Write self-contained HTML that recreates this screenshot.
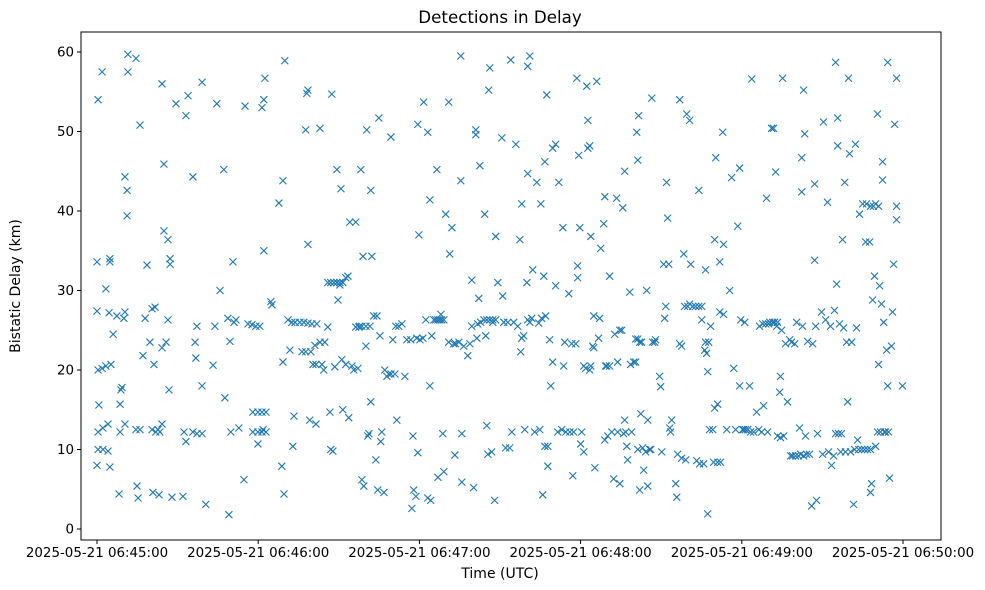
<!DOCTYPE html>
<html><head><meta charset="utf-8"><style>
html,body{margin:0;padding:0;background:#fff;}
svg{display:block;font-family:"DejaVu Sans","Liberation Sans",sans-serif;}
</style></head><body>
<svg id="chart" width="985" height="590" viewBox="0 0 985 590">
<rect x="0" y="0" width="985" height="590" fill="#fff"/>
<text x="500" y="23" text-anchor="middle" font-size="16.7">Detections in Delay</text>
<g id="points"></g>
<rect x="81" y="32" width="860" height="508" fill="none" stroke="#000" stroke-width="1"/>
<g id="xticks"></g>
<g id="yticks"></g>
<text x="500" y="578" text-anchor="middle" font-size="14">Time (UTC)</text>
<text transform="translate(20,286) rotate(-90)" text-anchor="middle" font-size="14">Bistatic Delay (km)</text>
</svg>
<script>
const xTickSeconds=[0,60,120,180,240,300];
const xTickLabels=["2025-05-21 06:45:00","2025-05-21 06:46:00","2025-05-21 06:47:00","2025-05-21 06:48:00","2025-05-21 06:49:00","2025-05-21 06:50:00"];
const yTickValues=[0,10,20,30,40,50,60];
// [seconds after 06:45:00, bistatic delay km]
const detections=[
[0.4,54],[1.9,57.5],[0,33.6],[0,27.4],[0.4,20],[1.9,20.2],[3.3,20.5],[5.2,20.7],[0.7,15.6],[0.4,12.2],[2.2,12.7],[4.1,13.2],[0.4,10],[2.2,10],[4.1,9.8],[0,8],[3.3,30.2],[4.8,34],[4.8,33.6],[4.5,27.2],[7.4,26.8],[6,24.5],[4.8,7.8],[8.6,12.2],[9.3,17.8],[8.9,17.5],[8.6,15.7],[8.2,4.4],[10.4,44.3],[11.2,42.6],[11.2,39.4],[10,26.5],[10.4,27.3],[11.5,59.7],[11.5,57.5],[10.4,13.2],[14.5,59.2],[16,50.8],
[15.3,3.9],[14.9,5.4],[14.5,12.5],[16,12.5],[17.9,26.5],[18.6,33.2],[17.1,21.8],[19.7,23.5],[20.5,27.7],[21.6,27.9],[21.2,20.7],[20.5,12.5],[21.9,12.2],[22.7,12.5],[20.8,4.6],[23.1,4.3],[24.2,56],[24.9,45.9],[24.9,37.5],[26.4,36.4],[27.2,34],[27.2,33.3],[26.4,26.3],[25.7,23.5],[24.2,22.8],[26.8,17.5],[23.4,12.2],[24.2,13.2],[27.9,4],[29.4,53.5],[32,4.1],[33.1,52],[33.9,54.5],[32.4,12.2],[33.1,11],[35.7,44.3],[36.8,21.5],[36.5,23.5],[37.2,25.5],[35.7,12.2],[37.2,12],[39.1,12],[39.1,56.2],[39.1,18],[40.5,3.1],
[43.2,20.6],[43.9,25.5],[44.6,53.5],[45.8,30],[47.2,45.2],[47.6,16.5],[49.1,1.8],[48.7,26.5],[50.6,33.6],[49.5,23.6],[49.8,12.2],[51,26],[52.8,12.7],[51.7,26.3],[54.7,6.2],[55.1,53.2],[56.2,25.8],[57.7,25.7],[59.1,25.5],[60.6,25.5],[58,14.7],[59.9,14.7],[61.4,14.7],[62.9,14.7],[58,12.2],[59.9,12.2],[61.4,12.2],[62.9,12.2],[59.9,10.7],[61.8,12.5],[61.4,53],[62.1,54],[62.5,56.7],[62.1,35],[64.7,28.6],[65.1,28.2],[67.7,41],[69.2,43.8],[69.2,21],[68.8,7.9],[69.6,4.4],[69.9,58.9],[71.1,26.3],[71.8,22.5],[72.5,26],[73.7,26],[73.3,14.2],[72.9,10.4],
[75.5,26],[77,26],[78.5,25.9],[76.3,22.3],[77.7,22.3],[79.6,22.3],[77.7,50.2],[78.1,54.8],[78.5,55.2],[78.5,35.8],[79.2,13.7],[80.4,20.7],[80,25.8],[81.1,23.1],[81.5,20.7],[81.8,25.8],[81.5,13.2],[83,50.4],[83,23.5],[83.7,20.7],[84.8,23.5],[84.4,20],[85.9,25.4],[85.9,31],[87,31],[88.2,31],[89.3,31],[90.4,31],[91.5,31],[87,10],[87.8,9.8],[86.7,14.7],[87.4,54.7],[88.5,20.4],[89.3,45.2],[89.7,28.8],[90.4,30.7],[91.1,21.3],[90.8,42.8],[91.5,15],[92.6,31.6],[93.4,31.8],[92.6,20.7],[94.1,38.6],[93.7,14],[94.9,20.5],[95.6,20],[96.3,38.6],[96.3,25.4],[97.5,25.4],[97.8,25.5],[98.6,25.5],[100.1,25.5],[101.6,25.5],[97.1,20.2],[98.2,45.2],[99,34.3],[98.6,6.2],[99.3,5.4],[100.1,23],[100.4,50.2],[100.8,11.7],[101.2,12],[101.9,42.6],[102.3,34.3],[101.9,16],[103,26.8],[103.8,8.7],[104.2,26.8],[104.5,4.9],[104.9,51.7],[105.3,24.3],[105.6,11],[106,12.2],[106.8,4.6],
[107.1,20],[107.9,19.2],[108.6,19.5],[109.4,19.5],[110.9,19.5],[109.4,49.3],[110.1,23.8],[111.2,25.5],[112.3,25.5],[113.5,25.8],[111.6,13.7],[114.6,19.2],[115.3,23.8],[116.8,23.8],[117.6,11.7],[117.9,4.9],[117.2,2.6],[118.7,4.1],[119.4,9.6],[119.4,50.9],[119.8,37],[119,24],[120.2,23.8],[121.3,24],[121.6,53.7],[122.4,26.3],[123.1,3.9],[124.2,3.6],[123.1,49.9],[123.9,41.4],[123.9,18],[124.6,24.3],[125.4,26.3],[126.5,45.2],[126.1,26.3],[126.9,26.3],[127.6,26.3],[128.3,26.3],[129.1,26.3],[128,27],[126.9,6.5],[128.7,12],[129.1,7.2],[129.8,39.6],[130.9,53.7],[131.3,34.6],[130.9,23.5],[132.1,37.9],[132.8,23.3],[133.2,9.3],[133.5,23.3],[134.7,23.5],[135.4,59.5],[135.4,43.8],[135.8,12],[135.8,5.9],
[136.5,23],[138,21.8],[138.8,23.3],[139.5,31.3],[139.5,25.5],[140.2,5.2],[141,50.2],[141,49.6],[141.4,24],[141.7,25.8],[142.1,29],[142.5,45.7],[142.8,26],[144,26.3],[145.1,26.3],[146.2,26.3],[147.3,26.3],[148.4,26.3],[144.7,24.3],[145.1,13],[145.5,9.4],[144.3,39.6],[145.8,55.2],[146.2,58],[146.9,9.7],[147.3,26],[148,3.6],[148.4,36.8],[149.2,31],[150.7,49.2],[151,29.3],[151.4,26],[152.1,10.2],[152.9,26],[153.6,10.2],[154,59],[154.4,12.2],[155.1,26],[155.9,48.4],[156.6,25.5],[157.4,36.4],[157.7,22.3],[158.1,40.9],[158.1,24],[158.8,24.3],[159.2,12.5],[160,31],[160.3,44.7],[160.3,58.2],[161.1,59.5],[160.3,26.3],[161.1,26],[162.2,32.6],[161.8,26.5],[162.9,12.2],[163.7,43.6],[164.4,25.9],[164.8,12.5],[165.2,40.9],[165.5,26.5],[165.9,4.3],[166.3,31.8],[166.7,46.2],[166.7,10.4],[167,26.8],
[167.4,54.6],[167.8,7.9],[167.8,10.4],[168.5,23.8],[168.9,18],[169.6,21],[169.6,47.9],[170.7,48.4],[170.7,30.6],[171.5,12.2],[171.9,43.6],[173,12.5],[173.4,37.9],[174.1,23.5],[173.7,20.5],[174.5,12.2],[175.6,29.6],[176,12.2],[176.7,23.3],[177.1,6.7],[177.4,12.2],[178.2,23.3],[178.6,56.7],[178.9,33.1],[178.9,31.6],[179.3,47],[179.7,37.9],[180,10.7],[180.4,12.2],[181.2,20.5],[181.2,9.7],[181.9,20.2],[182.3,55.7],[182.7,51.4],[182.7,47.9],[183.4,48.2],[183.4,20],[183.8,20.5],[183.8,36.8],[184.9,26.8],[184.5,23],[184.9,22.8],[185.3,7.7],[186,56.3],[186.7,24],[187.1,26.5],[187.5,35.3],[188.6,38.4],[189,41.8],[189,11.2],[189.7,20.5],[189.3,20.5],[190.1,11.7],[190.8,31.8],[190.8,20.5],[191.6,12.2],[192.7,24.5],[192.3,6.3],[193.4,41.6],[193.8,12.2],[194.6,5.7],[193.8,21],[194.6,25],[195.3,25],[195.7,40.4],[196,12],[196.4,45],[196.4,13.7],
[196.8,12.2],[197.2,10.4],[197.5,8.7],[198.3,29.8],[198.6,20.7],[199,12.2],[199.8,21],[200.5,21],[200.9,49.9],[201.6,52],[200.5,23.9],[201.3,23.9],[202,23.5],[202.7,23.5],[201.3,46.4],[201.3,10],[202,4.9],[202.4,14.5],[203.1,10.2],[203.5,7.4],[204.2,9.7],[204.6,30],[205,13.7],[205,5.4],[205.7,10],[206.1,10],[206.5,54.2],[206.8,23.5],[207.6,23.5],[207.9,23.8],[209.4,19.2],[209.8,17.9],[210.2,9.7],[210.9,33.3],[211.3,26.5],[211.7,28],[212,43.6],[212.4,39.1],[212.8,33.3],[213.2,12.7],[213.5,12.2],[213.9,13.7],[215.4,5.7],[215.8,4],[216.1,9.4],[216.9,54],[216.9,23.3],[217.6,23],[217.6,8.9],[218.4,34.6],[218.7,28],[219.1,8.7],[219.5,52.2],[219.9,28],[220.6,51.4],[221,33.3],[220.6,28.3],[221.7,28],[222.8,28],[224,28],[225.1,28],[223.2,8.6],[224,42.6],[224.3,8.2],[225.1,26.3],[225.8,8.2],[226.2,22.5],
[226.5,32.6],[226.5,23.5],[226.9,22.1],[227.3,19.8],[227.3,1.9],[227.7,23.5],[228,12.5],[228.4,25.5],[229.2,12.5],[229.5,8.4],[229.9,36.4],[229.9,15.2],[230.3,46.7],[231,15.7],[231,8.4],[231.8,27.3],[231.8,33.6],[232.1,8.4],[232.9,49.9],[233.2,27],[233.2,35.8],[234.4,12.5],[235.5,30],[236.2,44.2],[237,20.2],[237.7,12.5],[238.5,38.1],[239.2,45.4],[239.2,18],[239.6,26.3],[240.3,12.5],[241.1,26],[240.7,12.5],[241.4,12.5],[242.2,12.5],[242.9,18],[243.3,12.2],[243.7,56.6],[244.4,12.2],[245.5,14.7],[246.3,12.5],[246.6,25.5],[247.8,25.8],[248.1,15.5],[247.4,12.2],[248.9,25.8],[249.2,41.6],[249.6,12.2],[250,25.8],[251.1,50.4],[251.8,50.4],[250.4,26],[251.5,26],[252.2,26],[253.3,26],[252.6,44.9],[253,25.5],[253.3,11.7],[254.1,17.2],[254.4,19.2],[254.4,11.5],[255.2,56.7],[254.8,25],[255.6,11.7],
[256.3,23.3],[257,16],[257.8,23.8],[258.2,9.2],[258.5,23.5],[258.9,9.2],[259.7,23.3],[260,9.2],[260.4,26],[261.1,9.2],[261.5,12.7],[261.9,9.4],[262.3,42.4],[262.3,46.7],[262.6,25.5],[263,55.2],[263,9.2],[263.4,49.7],[263.7,11.7],[264.1,9.4],[264.5,23.6],[265.2,9.4],[266,2.9],[266.4,23.3],[267.1,43.4],[267.1,33.8],[267.5,25.5],[267.8,3.6],[268.2,12],[269.7,27.3],[270.1,9.4],[270.4,51.2],[271.2,26.3],[271.9,41.1],[272.3,9.7],[273,25.5],[273.4,8],[274.2,9.2],[274.5,27.5],[274.9,58.7],[274.9,12],[275.3,30.8],[275.7,48.2],[275.7,51.7],[276,12],[276.4,25.8],[276.8,9.7],[277.1,12],[277.5,36.4],[277.9,25.3],[278.3,43.6],[278.6,9.7],[279,23.5],[279.4,16],[279.7,56.7],[280.1,47.2],[280.5,9.7],[280.9,23.5],[281.6,3.1],[282,10],[282.3,48.4],[282.7,25.3],[283.1,11.2],[283.5,10],[283.8,39.6],[284.6,10],[285,40.9],[285.7,10],[286.1,36.1],[286.4,40.9],[286.8,10],[287.6,36.1],[287.9,40.6],[288.3,5.7],[287.9,10],[288.7,28.8],[289,40.6],[287.9,4.6],[289.4,31.8],[289.8,10.4],[289.8,40.9],[290.5,52.2],[290.5,12.2],[290.9,40.6],[290.9,20.7],[291.3,30.6],[291.6,12.2],[292,28.3],[292.4,43.9],[292.4,46.2],[292.8,26],[293.1,12.2],[293.5,12.2],[294.3,58.7],[293.9,22.5],[294.3,18],[294.6,12.2],[295,6.4],[295.7,23],[296.1,27.3],[296.5,33.3],[296.9,50.9],[297.6,56.7],[297.6,40.6],[297.6,38.9],[299.8,18]
];
const NS="http://www.w3.org/2000/svg";
const X0=97, PXS=806/300, Y0=529, PYK=7.95;
function xs(t){return X0+t*PXS;}
function ys(d){return Y0-d*PYK;}
const pg=document.getElementById('points');
detections.forEach(function(p){
  const cx=xs(p[0]), cy=ys(p[1]), r=3.5;
  const m=document.createElementNS(NS,'path');
  m.setAttribute('d','M'+(cx-r)+' '+(cy-r)+'L'+(cx+r)+' '+(cy+r)+'M'+(cx-r)+' '+(cy+r)+'L'+(cx+r)+' '+(cy-r));
  m.setAttribute('stroke','#1f77b4');
  m.setAttribute('stroke-width','1.1');
  m.setAttribute('fill','none');
  
  
  pg.appendChild(m);
});
const xg=document.getElementById('xticks');
xTickSeconds.forEach(function(s,i){
  const x=xs(s);
  const l=document.createElementNS(NS,'line');
  l.setAttribute('x1',x);l.setAttribute('x2',x);l.setAttribute('y1',540);l.setAttribute('y2',544);
  l.setAttribute('stroke','#000');
  
  
  xg.appendChild(l);
  const t=document.createElementNS(NS,'text');
  t.setAttribute('x',x);t.setAttribute('y',557);t.setAttribute('text-anchor','middle');t.setAttribute('font-size','13.4');
  t.textContent=xTickLabels[i];
  
  
  xg.appendChild(t);
});
const yg=document.getElementById('yticks');
yTickValues.forEach(function(v){
  const y=ys(v);
  const l=document.createElementNS(NS,'line');
  l.setAttribute('x1',77);l.setAttribute('x2',81);l.setAttribute('y1',y);l.setAttribute('y2',y);
  l.setAttribute('stroke','#000');
  
  
  yg.appendChild(l);
  const t=document.createElementNS(NS,'text');
  t.setAttribute('x',74);t.setAttribute('y',y+4.5);t.setAttribute('text-anchor','end');t.setAttribute('font-size','13.4');
  t.textContent=String(v);
  
  
  yg.appendChild(t);
});
</script>
</body></html>
